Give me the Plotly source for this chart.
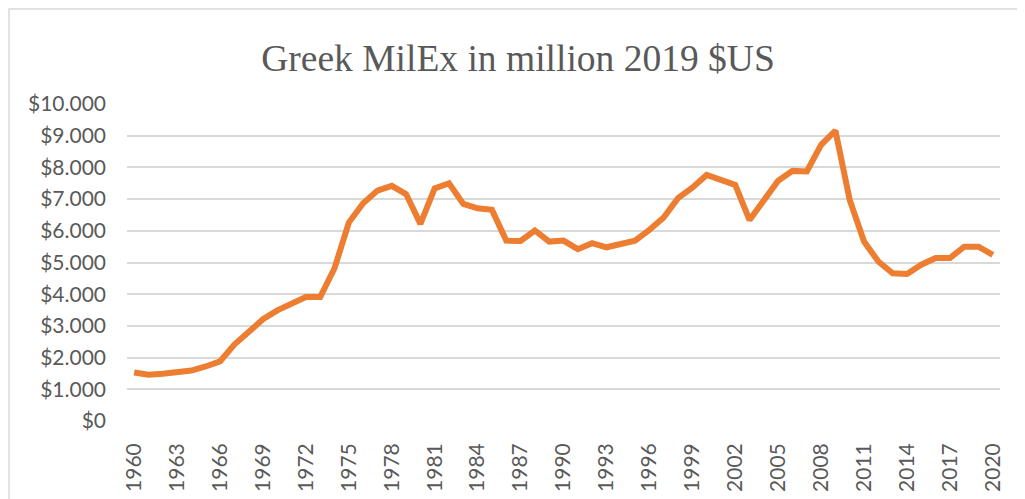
import plotly.graph_objects as go

years = list(range(1960, 2021))
milex_thousands = [
    1.53, 1.46, 1.49, 1.52, 1.59, 1.72, 1.88, 2.41, 2.83, 3.21,
    3.49, 3.69, 3.91, 3.91, 4.82, 6.26, 6.87, 7.27, 7.42, 7.16,
    6.22, 7.34, 7.50, 6.85, 6.71, 6.66, 5.69, 5.68, 6.01, 5.66,
    5.69, 5.42, 5.61, 5.48, 5.58, 5.69, 6.03, 6.42, 7.03, 7.36,
    7.76, 7.61, 7.45, 6.34, 7.00, 7.58, 7.89, 7.87, 8.71, 9.16,
    6.97, 5.66, 5.03, 4.66, 4.64, 4.93, 5.14, 5.14, 5.50, 5.50,
    5.24,
]
milex = [v * 1000 for v in milex_thousands]
tick_years = years[::3]

# die Seite hat 8px Rand, daher etwas kleiner
W, H = 1017, 491
ML, MR, MT, MB = 119, 25, 96, 78
pw, ph = W - ML - MR, H - MT - MB

text_color = "#595959"
grid_color = "#d9d9d9"

fig = go.Figure()

fig.add_trace(
    go.Scatter(
        x=years,
        y=milex,
        mode="lines",
        line=dict(color="#ED7D31", width=6),
        showlegend=False,
        hoverinfo="skip",
    )
)

# Rahmen um das Diagramm
fig.add_shape(
    type="rect",
    xref="paper",
    yref="paper",
    x0=(1 - ML) / pw,
    x1=(W + 10 - ML) / pw,
    y0=-(H + 10 - MT - ph) / ph,
    y1=(MT + ph - 1) / ph,
    line=dict(color=grid_color, width=1.5),
    layer="below",
)

fig.update_layout(
    width=W,
    height=H,
    margin=dict(l=ML, r=MR, t=MT, b=MB, autoexpand=False),
    paper_bgcolor="white",
    plot_bgcolor="white",
    separators=",.",
    title=dict(
        text="Greek MilEx in million 2019 $US",
        x=510 / W,
        xanchor="center",
        y=1 - 50 / H,
        yanchor="middle",
        font=dict(family="Liberation Serif", size=37.5, color=text_color),
    ),
    xaxis=dict(
        range=[1959.5, 2020.5],
        tickvals=tick_years,
        ticktext=[str(y) for y in tick_years],
        tickangle=-90,
        showgrid=False,
        zeroline=False,
        showline=False,
        ticks="",
        automargin=False,
        ticklabelstandoff=17,
        tickfont=dict(family="Lato", size=21, color=text_color),
    ),
    yaxis=dict(
        range=[0, 10000],
        dtick=1000,
        tickprefix="$",
        tickformat=",.0f",
        showgrid=True,
        gridcolor=grid_color,
        gridwidth=1.5,
        zeroline=False,
        showline=False,
        ticks="",
        automargin=False,
        ticklabelstandoff=20,
        tickfont=dict(family="Lato", size=21, color=text_color),
    ),
)

fig.write_html("out.html")
